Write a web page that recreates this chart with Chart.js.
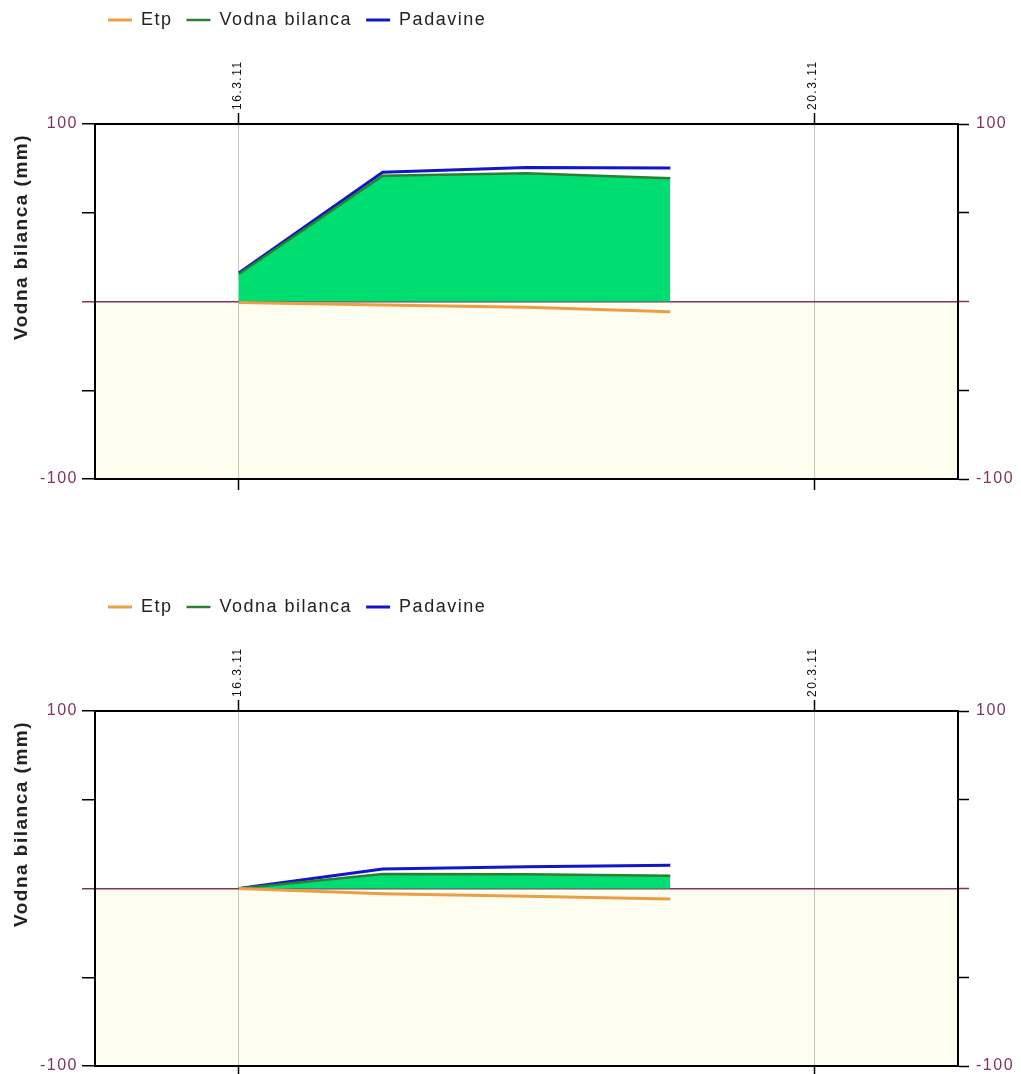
<!DOCTYPE html>
<html><head><meta charset="utf-8">
<script src="https://cdn.jsdelivr.net/npm/chart.js@4/dist/chart.umd.min.js"></script>
<style>
html,body{margin:0;padding:0;background:#fff;overflow:hidden;width:1021px;height:1074px;}
canvas{display:block;}
</style></head><body>
<canvas id="c1" width="1021" height="587"></canvas>
<canvas id="c2" width="1021" height="587"></canvas>
<script>
// ---- data ----
const dayNums = [16, 17, 18, 19];          // day of March 2011
const xTickDays = [16, 20];
const xTickLabels = ['16.3.11', '20.3.11'];
const yTickValues = [100, -100];
const yTickLabels = ['100', '-100'];
const seriesNames = ['Etp', 'Vodna bilanca', 'Padavine'];
const yTitleText = 'Vodna bilanca (mm)';

const etp1      = [-0.5, -2.0, -3.3, -5.8];
const bilanca1  = [15.5, 70.8, 72.2, 69.4];
const padavine1 = [16.0, 72.8, 75.5, 75.2];

const etp2      = [0, -3.0, -4.3, -5.9];
const bilanca2  = [0, 8.2, 8.0, 7.2];
const padavine2 = [0, 11.0, 12.2, 13.1];

// ---- styles ----
const PURPLE = '#7d3560';
const C_ETP = '#ec9e45';
const C_BIL = '#2e7d32';
const C_BIL_FILL = '#00de72';
const C_PAD = '#1414c8';
const FONT = '"Liberation Sans", Arial, sans-serif';

const spacing = {
  id: 'spacing',
  beforeUpdate(c) { c.ctx.letterSpacing = '1.5px'; },
  beforeLayout(c) { c.ctx.letterSpacing = '1.5px'; },
  beforeDraw(c) { c.ctx.letterSpacing = '1.5px'; }
};
const bg = {
  id: 'bg',
  beforeDraw(c) {
    const {ctx, chartArea: a, scales: {y}} = c;
    const y0 = y.getPixelForValue(0);
    ctx.save();
    ctx.fillStyle = '#fefef0';
    ctx.fillRect(a.left, y0, a.right - a.left, a.bottom - y0);
    ctx.restore();
  }
};
const legendShift = {
  id: 'legendShift',
  afterLayout(c) {
    const l = c.legend;
    l.left += 94; l.right += 94;
    l.top -= 3; l.bottom -= 3;
  }
};
const yTitle = {
  id: 'yTitle',
  afterDraw(c) {
    const ctx = c.ctx;
    ctx.save();
    ctx.letterSpacing = '1.5px';
    ctx.font = 'bold 19px ' + FONT;
    ctx.fillStyle = '#222';
    ctx.translate(22, 237);
    ctx.rotate(-Math.PI / 2);
    ctx.textAlign = 'center';
    ctx.textBaseline = 'middle';
    ctx.fillText(yTitleText, 0, 0);
    ctx.restore();
  }
};

function pts(vals) { return dayNums.map((d, i) => ({x: d, y: vals[i]})); }
function setTicks(scale, vals) { scale.ticks = vals.map(v => ({value: v})); }

function makeChart(id, etp, bil, pad) {
  return new Chart(document.getElementById(id), {
    type: 'line',
    data: {
      datasets: [
        {label: seriesNames[0], data: pts(etp), borderColor: C_ETP, backgroundColor: C_ETP, borderWidth: 3, fill: false},
        {label: seriesNames[1], data: pts(bil), borderColor: C_BIL, backgroundColor: C_BIL_FILL, borderWidth: 2.5, fill: 'origin'},
        {label: seriesNames[2], data: pts(pad), borderColor: C_PAD, backgroundColor: C_PAD, borderWidth: 3, fill: false}
      ]
    },
    options: {
      responsive: false,
      animation: false,
      events: [],
      layout: {padding: 0},
      elements: {point: {radius: 0}, line: {tension: 0}},
      plugins: {
        tooltip: {enabled: false},
        legend: {
          display: true, position: 'top', align: 'start',
          labels: {
            usePointStyle: true, pointStyle: 'line', pointStyleWidth: 24,
            padding: 14, color: '#222',
            font: {family: FONT, size: 18}
          }
        }
      },
      scales: {
        x: {
          type: 'linear', position: 'top', min: 15, max: 21,
          afterBuildTicks: s => setTicks(s, xTickDays),
          afterFit: s => { s.height = 82; },
          ticks: {
            autoSkip: false, minRotation: 90, maxRotation: 90, padding: 3, labelOffset: 13,
            color: '#111', font: {family: FONT, size: 12},
            callback: v => xTickLabels[xTickDays.indexOf(v)]
          },
          grid: {color: '#c4c4c4', lineWidth: 1, tickColor: '#000', tickLength: 11, tickWidth: 1.5},
          border: {color: '#000', width: 2}
        },
        x2: {
          type: 'linear', position: 'bottom', min: 15, max: 21,
          afterBuildTicks: s => setTicks(s, xTickDays),
          afterFit: s => { s.height = 108; },
          ticks: {display: false},
          grid: {drawOnChartArea: false, tickColor: '#000', tickLength: 11, tickWidth: 1.5},
          border: {color: '#000', width: 2}
        },
        y: {
          type: 'linear', position: 'left', min: -100, max: 100,
          afterBuildTicks: s => setTicks(s, [-100, -50, 0, 50, 100]),
          afterFit: s => { s.width = 95; },
          ticks: {
            padding: 4, color: PURPLE, font: {family: FONT, size: 16},
            callback: v => { const i = yTickValues.indexOf(v); return i >= 0 ? yTickLabels[i] : ''; }
          },
          grid: {
            color: ctx => (ctx.tick && ctx.tick.value === 0) ? PURPLE : 'rgba(0,0,0,0)',
            lineWidth: 1.5,
            tickColor: ctx => (ctx.tick && ctx.tick.value === 0) ? PURPLE : '#000',
            tickLength: 13, tickWidth: 1.5
          },
          border: {color: '#000', width: 2}
        },
        y2: {
          type: 'linear', position: 'right', min: -100, max: 100,
          afterBuildTicks: s => setTicks(s, [-100, -50, 0, 50, 100]),
          afterFit: s => { s.width = 63; },
          ticks: {
            padding: 7, color: PURPLE, font: {family: FONT, size: 16},
            callback: v => { const i = yTickValues.indexOf(v); return i >= 0 ? yTickLabels[i] : ''; }
          },
          grid: {
            drawOnChartArea: false,
            tickColor: ctx => (ctx.tick && ctx.tick.value === 0) ? PURPLE : '#000',
            tickLength: 11, tickWidth: 1.5
          },
          border: {color: '#000', width: 2}
        }
      }
    },
    plugins: [spacing, bg, legendShift, yTitle]
  });
}

makeChart('c1', etp1, bilanca1, padavine1);
makeChart('c2', etp2, bilanca2, padavine2);
</script>
</body></html>
